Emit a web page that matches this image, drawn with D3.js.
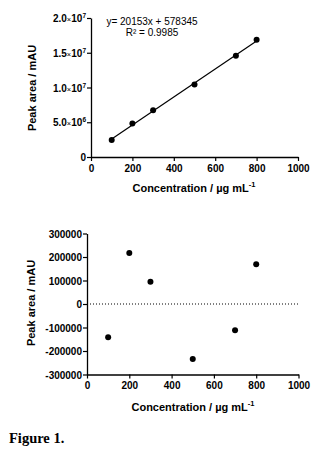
<!DOCTYPE html>
<html>
<head>
<meta charset="utf-8">
<script src="https://cdn.jsdelivr.net/npm/d3@7"></script>
<style>
  body { margin: 0; background: #fff; }
  text { font-family: "Liberation Sans", Arial, sans-serif; fill: #000; }
</style>
</head>
<body>
<svg id="chart" width="330" height="456"></svg>
<script>
// データ
const conc = [100, 200, 300, 500, 700, 800];
const peakArea = [2453000, 4827000, 6721000, 10420000, 14573000, 16871000];
const residuals = [-142000, 217000, 95000, -234000, -112000, 169000];
const slope = 20153, intercept = 578345;
const xTicks = [0, 200, 400, 600, 800, 1000];
const yTicksTop = [0, 5e6, 1e7, 1.5e7, 2e7];
const yTicksBottom = [-300000, -200000, -100000, 0, 100000, 200000, 300000];

const svg = d3.select('#chart');

// 上のグラフ
const xTop = d3.scaleLinear().domain([0, 1000]).range([91, 298]);
const yTop = d3.scaleLinear().domain([0, 2e7]).range([157, 18]);

function sciLabel(sel, v) {
  if (v === 0) { sel.text('0'); return; }
  const e = Math.floor(Math.log10(v));
  const m = (v / Math.pow(10, e)).toFixed(1);
  sel.append('tspan').text(m);
  sel.append('tspan').attr('font-size', 7.5).attr('font-weight', 'normal').text('\u00d7');
  sel.append('tspan').text('10');
  sel.append('tspan').attr('font-size', 6.5).attr('dy', -4).text(e);
}

function drawAxes(g, x, y, yTicks, yFormat) {
  const xa = g.append('g').attr('transform', `translate(0,${y.range()[0]})`)
    .call(d3.axisBottom(x).tickValues(xTicks).tickSize(4).tickSizeOuter(0).tickFormat(d3.format('d')));
  xa.select('.domain').attr('stroke-width', 1.3);
  xa.selectAll('.tick line').attr('stroke-width', 1.2);
  xa.selectAll('.tick text').attr('font-size', 10).attr('font-weight', 'bold').attr('dy', '0.75em');

  const ya = g.append('g').attr('transform', `translate(${x.range()[0]},0)`)
    .call(d3.axisLeft(y).tickValues(yTicks).tickSize(4).tickSizeOuter(0).tickFormat(''));
  ya.select('.domain').attr('stroke-width', 1.3);
  ya.selectAll('.tick line').attr('stroke-width', 1.2);
  ya.selectAll('.tick').append('text')
    .attr('x', -5).attr('dy', '0.35em').attr('text-anchor', 'end')
    .attr('font-size', 10).attr('font-weight', 'bold').attr('fill', '#000')
    .each(function(d) { yFormat(d3.select(this), d); });
}

const topG = svg.append('g');
drawAxes(topG, xTop, yTop, yTicksTop, sciLabel);

// 回帰直線
topG.append('line')
  .attr('x1', xTop(100)).attr('y1', yTop(slope * 100 + intercept))
  .attr('x2', xTop(800)).attr('y2', yTop(slope * 800 + intercept))
  .attr('stroke', '#000').attr('stroke-width', 1.2);

topG.selectAll('circle').data(conc).enter().append('circle')
  .attr('cx', d => xTop(d)).attr('cy', (d, i) => yTop(peakArea[i]))
  .attr('r', 3).attr('fill', '#000');

topG.append('text').attr('x', 152).attr('y', 25).attr('text-anchor', 'middle')
  .attr('font-size', 10).text('y= 20153x + 578345');
topG.append('text').attr('x', 152).attr('y', 36).attr('text-anchor', 'middle')
  .attr('font-size', 10).text('R\u00b2 = 0.9985');

function axisTitles(g, cx, xy, yx, yy) {
  const t = g.append('text').attr('x', cx).attr('y', xy).attr('text-anchor', 'middle')
    .attr('font-size', 11).attr('font-weight', 'bold');
  t.append('tspan').text('Concentration / \u00b5g mL');
  t.append('tspan').attr('font-size', 7.5).attr('dy', -5).text('-1');
  g.append('text').attr('transform', `translate(${yx},${yy}) rotate(-90)`)
    .attr('text-anchor', 'middle').attr('font-size', 11).attr('font-weight', 'bold')
    .text('Peak area / mAU');
}
axisTitles(topG, 194, 192, 36, 88);

// 下のグラフ（残差）
const xBot = d3.scaleLinear().domain([0, 1000]).range([87, 298.5]);
const yBot = d3.scaleLinear().domain([-300000, 300000]).range([374.5, 233.5]);
const botG = svg.append('g');
drawAxes(botG, xBot, yBot, yTicksBottom, (sel, d) => sel.text(d));

botG.append('line')
  .attr('x1', xBot(0) + 3).attr('x2', xBot(1000)).attr('y1', yBot(0)).attr('y2', yBot(0))
  .attr('stroke', '#000').attr('stroke-width', 1).attr('stroke-dasharray', '1,2');

botG.selectAll('circle').data(conc).enter().append('circle')
  .attr('cx', d => xBot(d)).attr('cy', (d, i) => yBot(residuals[i]))
  .attr('r', 3).attr('fill', '#000');

axisTitles(botG, 193, 411, 35, 303);

svg.append('text').attr('x', 9).attr('y', 443)
  .style('font-family', '"Liberation Serif", "Times New Roman", serif')
  .attr('font-size', 14.5).attr('font-weight', 'bold').text('Figure 1.');
</script>
</body>
</html>
